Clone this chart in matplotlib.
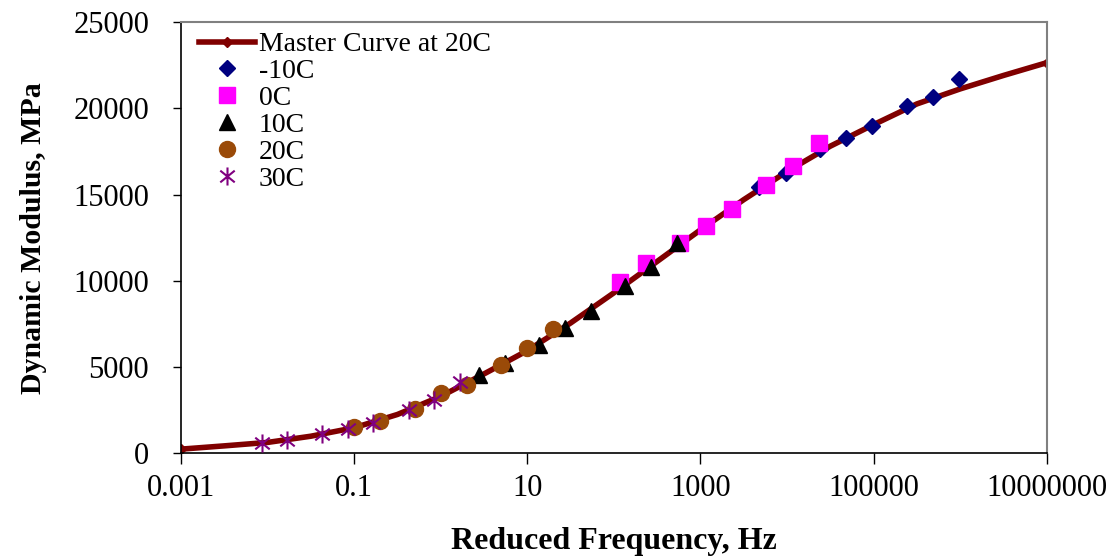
import numpy as np
import matplotlib
matplotlib.use("Agg")
import matplotlib.pyplot as plt
from matplotlib.path import Path

plt.rcParams['font.family'] = ['Liberation Serif', 'DejaVu Serif']

# master curve at 20C (every half decade)
master_freq = [1e-3, 10**-2.5, 1e-2, 10**-1.5, 1e-1, 10**-0.5, 1, 10**0.5, 10, 10**1.5,
               100, 10**2.5, 1000, 10**3.5, 1e4, 10**4.5, 1e5, 10**5.5, 1e6, 10**6.5, 1e7]
master_mod = [240, 430, 630, 990, 1480, 2250, 3300, 4600, 5950, 7550,
              9300, 11120, 12950, 14700, 16330, 17800, 19050, 20250, 21120, 21900, 22640]

# measured data, reduced frequency (Hz) and dynamic modulus (MPa)
freq_m10 = [4720, 9620, 23900, 48300, 96600, 241000, 485000, 968000]
mod_m10 = [15445, 16223, 17632, 18287, 18983, 20126, 20665, 21692]

freq_0 = [117, 236, 577, 1172, 2344, 5794, 11670, 23330]
mod_0 = [9935, 11003, 12197, 13149, 14164, 15544, 16663, 17963]

freq_10 = [2.74, 5.47, 13.8, 27.5, 54.5, 136, 269, 538]
mod_10 = [4524, 5261, 6264, 7267, 8236, 9686, 10805, 12163]

freq_20 = [0.1, 0.2, 0.5, 1, 2, 5, 10, 20]
mod_20 = [1525, 1897, 2552, 3497, 3944, 5104, 6107, 7192]

freq_30 = [0.00857, 0.0169, 0.0431, 0.0845, 0.167, 0.425, 0.847, 1.68]
mod_30 = [597, 754, 1102, 1410, 1780, 2494, 3115, 4118]

xticks = [1e-3, 1e-1, 1e1, 1e3, 1e5, 1e7]
xtick_labels = ['0.001', '0.1', '10', '1000', '100000', '10000000']
yticks = [0, 5000, 10000, 15000, 20000, 25000]

# asterisk like excel: X plus vertical bar
star = Path([(0, -1), (0, 1), (-0.8, -0.65), (0.8, 0.65), (-0.8, 0.65), (0.8, -0.65)],
            [Path.MOVETO, Path.LINETO, Path.MOVETO, Path.LINETO, Path.MOVETO, Path.LINETO])

fig = plt.figure(figsize=(11.18, 5.57), dpi=100)
ax = fig.add_axes([0.1619, 0.1862, 0.9362 - 0.1619, 0.9605 - 0.1862])

ax.plot(master_freq, master_mod, color='#800000', lw=4, marker='D', ms=5,
        markevery=[0, len(master_freq) - 1], label='Master Curve at 20C', zorder=2)
ax.plot(freq_m10, mod_m10, ls='none', marker='D', ms=8.5, color='#000080', mec='#000080', label='-10C', zorder=3)
ax.plot(freq_0, mod_0, ls='none', marker='s', ms=11, color='#FF00FF', mec='#FF00FF', label='0C', zorder=3)
ax.plot(freq_10, mod_10, ls='none', marker='^', ms=11.5, color='black', label='10C', zorder=3)
ax.plot(freq_20, mod_20, ls='none', marker='o', ms=11.5, color='#9A4A08', mec='#9A4A08', label='20C', zorder=3)
ax.plot(freq_30, mod_30, ls='none', marker=star, ms=13, mew=1.5, color='#800080', label='30C', zorder=4)

ax.set_xscale('log')
ax.set_xlim(1e-3, 1e7)
ax.set_ylim(0, 25000)
ax.set_xticks(xticks)
ax.set_xticklabels(xtick_labels)
ax.minorticks_off()
ax.set_yticks(yticks)

for s in ['top', 'right']:
    ax.spines[s].set_color('#808080')
    ax.spines[s].set_linewidth(1.5)
for s in ['left', 'bottom']:
    ax.spines[s].set_color('black')
    ax.spines[s].set_linewidth(1.2)

ax.tick_params(axis='both', direction='out', width=1, color='black', labelsize=22)
ax.tick_params(axis='x', length=8, pad=7)
ax.tick_params(axis='y', length=6, pad=17)

ax.set_xlabel('Reduced Frequency, Hz', fontsize=23, fontweight='bold', labelpad=17)
ax.set_ylabel('Dynamic Modulus, MPa', fontsize=21.5, fontweight='bold', labelpad=19)

ax.legend(loc='upper left', bbox_to_anchor=(0.021, 0.977), frameon=False, fontsize=20,
          handlelength=2.0, handletextpad=0.15, labelspacing=0.05, borderpad=0,
          borderaxespad=0)

fig.savefig('out.png', dpi=100)
